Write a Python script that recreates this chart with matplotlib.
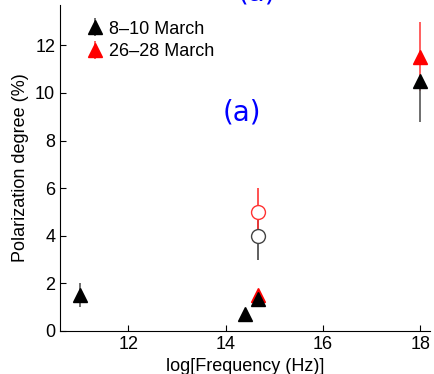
import matplotlib.pyplot as plt

plt.rcParams["font.family"] = ["Liberation Sans", "DejaVu Sans"]

# 8-10 March (black triangles)
early_x = [11.0, 14.4, 14.67, 18.0]
early_y = [1.5, 0.7, 1.35, 10.5]
early_lo = [0.5, 0.0, 0.25, 1.7]
early_hi = [0.5, 0.0, 0.25, 0.0]

# 26-28 March (red triangles)
late_x = [14.67, 18.0]
late_y = [1.5, 11.5]
late_lo = [0.0, 1.4]
late_hi = [0.0, 1.5]

# open circles (optical)
circ_x = [14.67, 14.67]
circ_y = [4.0, 5.0]
circ_lo = [1.0, 1.0]
circ_hi = [1.0, 1.0]
circ_col = ["#444444", "#ff3333"]

fig = plt.figure(figsize=(4.35, 3.74), dpi=100)
ax = fig.add_axes([0.138, 0.115, 0.851, 0.872])

for x, y, lo, hi, c in zip(circ_x, circ_y, circ_lo, circ_hi, circ_col):
    ax.errorbar([x], [y], yerr=[[lo], [hi]], fmt="o", color=c, mfc="white",
                mec=c, ms=10, lw=1.2, capsize=0, zorder=2)

ax.errorbar(early_x, early_y, yerr=[early_lo, early_hi], fmt="^", color="#555555",
            mfc="black", mec="black", ms=10, lw=1.2, capsize=0, zorder=3,
            label="8\u201310 March")
ax.errorbar(late_x, late_y, yerr=[late_lo, late_hi], fmt="^", color="#ff4444",
            mfc="red", mec="red", ms=10, lw=1.2, capsize=0, zorder=2,
            label="26\u201328 March")

ax.set_xlim(10.6, 18.2)
ax.set_ylim(0, 13.7)
ax.set_xticks([12, 14, 16, 18])
ax.set_yticks([0, 2, 4, 6, 8, 10, 12])
ax.tick_params(direction="in", labelsize=13, length=4)
ax.spines["top"].set_visible(False)
ax.spines["right"].set_visible(False)
ax.set_xlabel("log[Frequency (Hz)]", fontsize=13)
ax.set_ylabel("Polarization degree (%)", fontsize=13)

ax.legend(loc="upper left", frameon=False, fontsize=13, handletextpad=0.3,
          borderaxespad=0.3, handlelength=1.0, labelspacing=0.3,
          bbox_to_anchor=(0.035, 0.99))

fig.text(0.557, 0.70, "(a)", color="blue", fontsize=20, ha="center", va="center",
         family=["DejaVu Sans"])
# partly cut-off panel label at the very top, as in the source
fig.text(0.59, 1.02, "(a)", color="blue", fontsize=20, ha="center", va="center",
         family=["DejaVu Sans"])

fig.savefig("out.png", dpi=100)
